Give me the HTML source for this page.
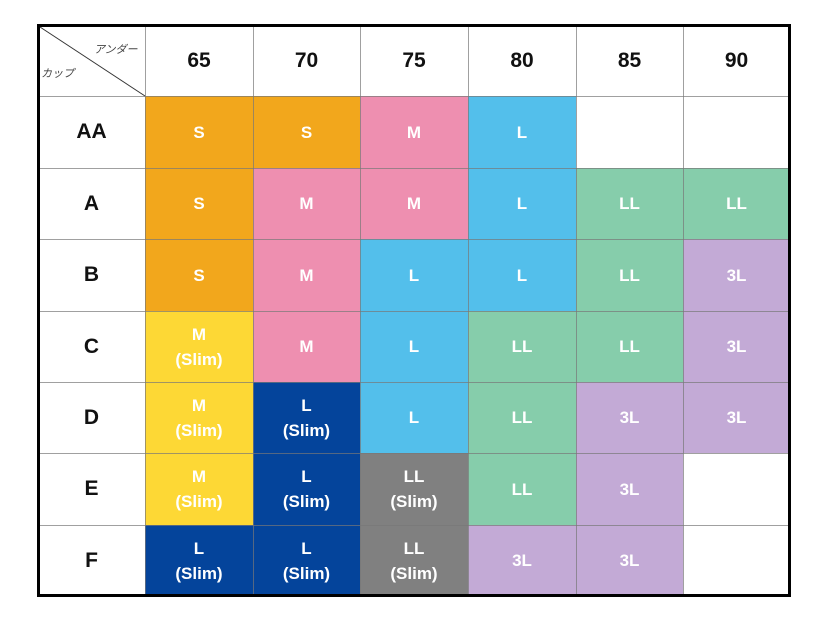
<!DOCTYPE html><html><head><meta charset="utf-8"><style>
body{margin:0;width:828px;height:618px;background:#fff;position:relative;overflow:hidden;font-family:"Liberation Sans","Noto Sans CJK JP",sans-serif}
.c{position:absolute;display:flex;align-items:center;justify-content:center;text-align:center;box-sizing:border-box;font-weight:bold}
.w{color:#fff;font-size:17px;line-height:25px}
.h{color:#111;font-size:21px}
.vl{position:absolute;width:1px;background:#777}
.hl{position:absolute;height:1px;background:#777}
</style></head><body>
<div id="t"></div>
<script>
var xs=[38,145,253,360,468,576,683,790],ys=[25,96,168,239,311,382,453,525,596];
var C={o:'#F2A71C',p:'#EE8FB0',b:'#53BFEB',g:'#86CDAB',u:'#C3AAD6',y:'#FDD835',n:'#04449B',r:'#808080',e:''};
var data=[
[['o','S'],['o','S'],['p','M'],['b','L'],['e',''],['e','']],
[['o','S'],['p','M'],['p','M'],['b','L'],['g','LL'],['g','LL']],
[['o','S'],['p','M'],['b','L'],['b','L'],['g','LL'],['u','3L']],
[['y','M<br>(Slim)'],['p','M'],['b','L'],['g','LL'],['g','LL'],['u','3L']],
[['y','M<br>(Slim)'],['n','L<br>(Slim)'],['b','L'],['g','LL'],['u','3L'],['u','3L']],
[['y','M<br>(Slim)'],['n','L<br>(Slim)'],['r','LL<br>(Slim)'],['g','LL'],['u','3L'],['e','']],
[['n','L<br>(Slim)'],['n','L<br>(Slim)'],['r','LL<br>(Slim)'],['u','3L'],['u','3L'],['e','']]];
var rows=['AA','A','B','C','D','E','F'],cols=['65','70','75','80','85','90'];
var h='';
function cell(x0,y0,x1,y1,bg,cls,txt){h+='<div class="c '+cls+'" style="left:'+x0+'px;top:'+y0+'px;width:'+(x1-x0)+'px;height:'+(y1-y0)+'px;'+(bg?'background:'+bg:'')+'">'+txt+'</div>';}
for(var i=0;i<6;i++)cell(xs[i+1],ys[0],xs[i+2],ys[1],'','h',cols[i]);
for(var r=0;r<7;r++){cell(xs[0],ys[r+1],xs[1],ys[r+2],'','h',rows[r]);
for(var i=0;i<6;i++)cell(xs[i+1],ys[r+1],xs[i+2],ys[r+2],C[data[r][i][0]],'w',data[r][i][1]);}
for(var i=1;i<7;i++)h+='<div class="vl" style="left:'+xs[i]+'px;top:25px;height:571px;opacity:.7"></div>';
for(var j=1;j<8;j++)h+='<div class="hl" style="top:'+ys[j]+'px;left:38px;width:752px;opacity:.7"></div>';
h+='<div style="position:absolute;left:37px;top:24px;width:748px;height:567px;border:3px solid #000;box-sizing:content-box;"></div>';
h+='<svg style="position:absolute;left:0;top:0" width="828" height="618"><line x1="40" y1="27" x2="145" y2="96" stroke="#333" stroke-width="1"/></svg>';
h+='<div style="position:absolute;left:94px;top:41px;font-size:11px;color:#444;font-style:italic">アンダー</div>';
h+='<div style="position:absolute;left:41px;top:65px;font-size:11px;color:#444;font-style:italic">カップ</div>';
document.getElementById('t').innerHTML=h;
</script>
</body></html>
